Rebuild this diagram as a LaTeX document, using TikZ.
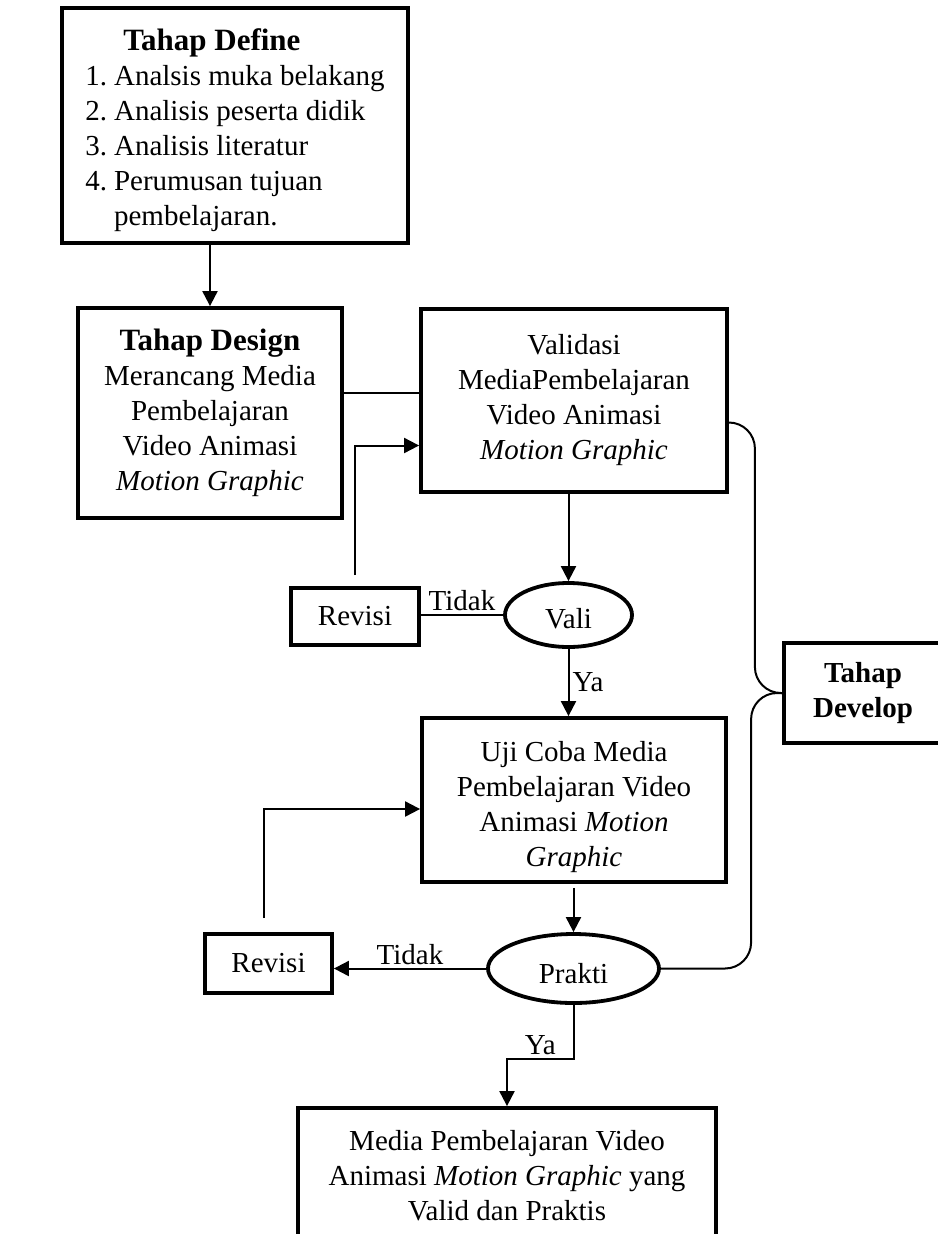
\documentclass[tikz,border=0pt]{standalone}
\usepackage{fontspec}
\setmainfont{Liberation Serif}
\usetikzlibrary{arrows.meta,shapes.geometric}

\newcommand{\stagefont}{\fontsize{31}{36}\selectfont\bfseries}

\begin{document}
\begin{tikzpicture}[x=1pt, y=-1pt,
    box/.style={draw, line width=3.8pt, inner sep=0pt, align=center,
      font=\fontsize{29}{35}\selectfont},
    oval/.style={draw, ellipse, line width=3.8pt, inner sep=0pt,
      font=\fontsize{29}{35}\selectfont},
    link/.style={line width=2pt},
    arr/.style={link, -{Triangle[length=15pt,width=15pt]}},
    lbl/.style={font=\fontsize{29}{35}\selectfont, inner sep=3pt}]
    \useasboundingbox (0,0) rectangle (937,1234);
    % Define
    \node[box, minimum width=346, minimum height=235] (def) at (235,125.5)
        {\begin{tabular}{@{}r@{\hspace{7pt}}l@{}}
         \multicolumn{2}{@{}l}{\rule{0pt}{36pt}\hspace{38pt}\stagefont Tahap Define}\\
         1. & Analsis muka belakang\\
         2. & Analisis peserta didik\\
         3. & Analisis literatur\\
         4. & Perumusan tujuan\\
            & pembelajaran.
         \end{tabular}};
    % Design
    \node[box, minimum width=264, minimum height=210] (des) at (210,413)
        {{\stagefont Tahap Design}\\Merancang Media\\Pembelajaran\\Video Animasi\\\textit{Motion Graphic}};
    % Develop
    \node[box, minimum width=306, minimum height=183] (vd) at (574,400.5)
        {Validasi\\MediaPembelajaran\\Video Animasi\\\textit{Motion Graphic}};
    \node[box, minimum width=128, minimum height=57] (rev1) at (355,616.5) {Revisi};
    \node[oval, minimum width=127, minimum height=64] (vali) at (568.5,615) {\rule{0pt}{28pt}Vali};
    \node[box, minimum width=304, minimum height=164] (uji) at (574,800)
        {\rule{0pt}{35pt}Uji Coba Media\\Pembelajaran Video\\Animasi \textit{Motion}\\\textit{Graphic}};
    \node[box, minimum width=127, minimum height=59] (rev2) at (268.5,963.5) {Revisi};
    \node[oval, minimum width=171, minimum height=69] (prakti) at (573.5,968.5) {\rule{0pt}{30pt}Prakti};
    \node[box, minimum width=158, minimum height=100] (dev) at (863,693)
        {\textbf{Tahap}\\\textbf{Develop}};
    % Result
    \node[box, minimum width=418, minimum height=136] (hasil) at (507,1176)
        {Media Pembelajaran Video\\Animasi \textit{Motion Graphic} yang\\Valid dan Praktis};

    % Connectors
    \draw[arr] (des.north |- def.south) -- (des.north);
    \draw[link] ([yshift=20pt]des.east) -- ([yshift=20pt]des.east -| vd.west);
    \draw[arr, shorten <=11pt] (rev1.north) |- ([yshift=-45pt]vd.west);
    \draw[arr] (vali.north |- vd.south) -- (vali.north);
    \draw[link] (vali.west) -- node[lbl, above] {Tidak} (vali.west -| rev1.east);
    \draw[arr] (vali.south) -- node[lbl, right] {Ya} (vali.south |- uji.north);
    \draw[arr, shorten <=4pt] (prakti.north |- uji.south) -- (prakti.north);
    \draw[arr] (prakti.west) -- node[lbl, above] {Tidak} (rev2.east |- prakti.west);
    \draw[arr, shorten <=14pt] ([xshift=-5pt]rev2.north) |- ([yshift=-9pt]uji.west);
    \draw[arr] (prakti.south) -- ++(0,54) -| node[lbl, pos=0.25, above] {Ya} (hasil.north);
    % Brace
    \draw[link, rounded corners=26pt] ([yshift=-22pt]vd.east) -- ++(26,0) |- (dev.west);
    \draw[link, rounded corners=26pt] (dev.west) -- ++(-31,0) |- (prakti.east);
\end{tikzpicture}
\end{document}
